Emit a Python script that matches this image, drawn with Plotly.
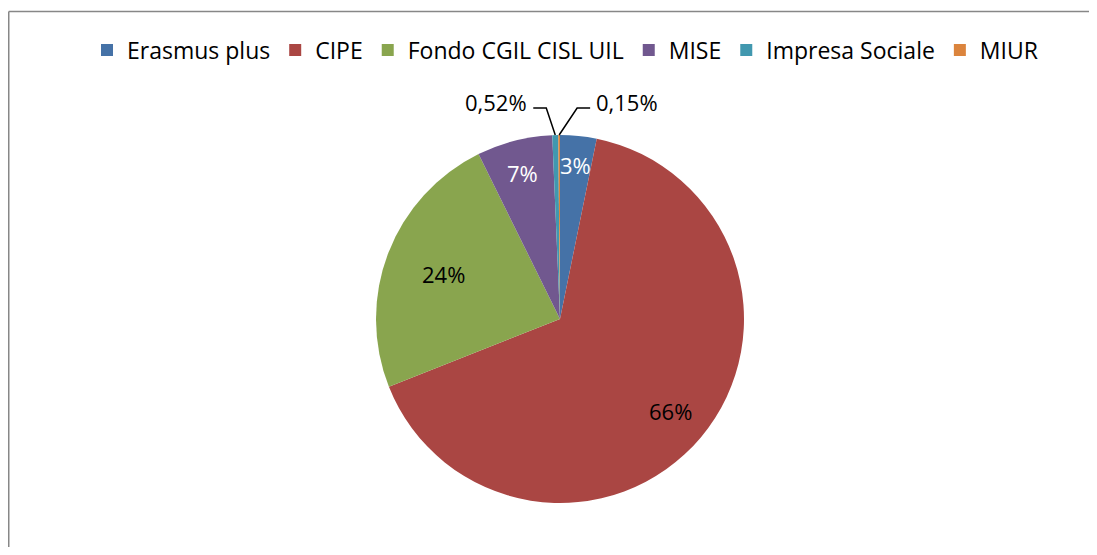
import math
import plotly.graph_objects as go

categories = ["Erasmus plus", "CIPE", "Fondo CGIL CISL UIL", "MISE", "Impresa Sociale", "MIUR"]
values = [3.2, 65.8, 23.7, 6.63, 0.52, 0.15]
labels_text = ["3%", "66%", "24%", "7%", "0,52%", "0,15%"]
colors = ["#4572A7", "#AA4643", "#89A54E", "#71588F", "#4198AF", "#DB843D"]
text_colors = ["white", "black", "black", "white", "black", "black"]
label_radius = [0.84, 0.78, 0.68, 0.82, None, None]   # inside label placement (fraction of radius)
leader_dx = [None, None, None, None, -9, 18]            # leader line elbow offsets (px)

OFF = 8                      # page margin of the html body
W, H = 1097 - 2 * OFF, 555 - 2 * OFF
cx, cy, r = 560 - OFF, 319 - OFF, 184
FONT = "Open Sans"
FS = 22
LEGEND_FS = 23


def to_paper(px, py):
    return px / W, 1 - py / H


fig = go.Figure(go.Pie(
    labels=categories,
    values=values,
    textinfo="none",
    sort=False,
    direction="clockwise",
    rotation=0,
    marker=dict(colors=colors, line=dict(width=0)),
    domain=dict(x=[(cx - r) / W, (cx + r) / W], y=[1 - (cy + r) / H, 1 - (cy - r) / H]),
    hoverinfo="label+percent",
))

total = sum(values)
cum = 0.0
shapes = []
annotations = []
for i, v in enumerate(values):
    mid = (cum + v / 2) / total * 2 * math.pi
    cum += v
    if label_radius[i] is not None:
        f = label_radius[i]
        x, y = to_paper(cx + f * r * math.sin(mid), cy - f * r * math.cos(mid))
        annotations.append(dict(x=x, y=y, xref="paper", yref="paper", text=labels_text[i],
                                showarrow=False, xanchor="center", yanchor="middle",
                                font=dict(family=FONT, size=FS, color=text_colors[i])))
    else:
        dx = leader_dx[i]
        s = 1 if dx > 0 else -1
        px = cx + r * math.sin(mid)
        py = cy - r * math.cos(mid)
        ex, ey = px + dx, py - 27
        hx = ex + s * 13
        p0, p1, p2 = to_paper(px, py), to_paper(ex, ey), to_paper(hx, ey)
        shapes.append(dict(type="path", xref="paper", yref="paper",
                           path=f"M {p0[0]} {p0[1]} L {p1[0]} {p1[1]} L {p2[0]} {p2[1]}",
                           line=dict(color="black", width=1.5)))
        tx, ty = to_paper(hx + s * 4, ey - 6)
        annotations.append(dict(x=tx, y=ty, xref="paper", yref="paper",
                                text=labels_text[i], showarrow=False,
                                xanchor="right" if s < 0 else "left", yanchor="middle",
                                font=dict(family=FONT, size=FS, color=text_colors[i])))

# chart frame (left and top edges; the rest lies outside the picture)
fx0, fy1 = to_paper(0.75, 11.5 - OFF)
frame_line = dict(color="#878787", width=1.5)
shapes.append(dict(type="line", xref="paper", yref="paper", x0=fx0, x1=fx0, y0=-0.05, y1=fy1, line=frame_line))
shapes.append(dict(type="line", xref="paper", yref="paper", x0=fx0, x1=1.05, y0=fy1, y1=fy1, line=frame_line))

lx, ly = to_paper(565 - OFF, 50 - OFF)
fig.update_layout(
    width=W, height=H,
    margin=dict(l=0, r=0, t=0, b=0),
    paper_bgcolor="white",
    showlegend=True,
    legend=dict(orientation="h", x=lx, xanchor="center", y=ly, yanchor="middle",
                font=dict(family=FONT, size=LEGEND_FS, color="black"), itemwidth=30, traceorder="normal"),
    shapes=shapes,
    annotations=annotations,
    font=dict(family=FONT),
)

fig.write_html("out.html")
